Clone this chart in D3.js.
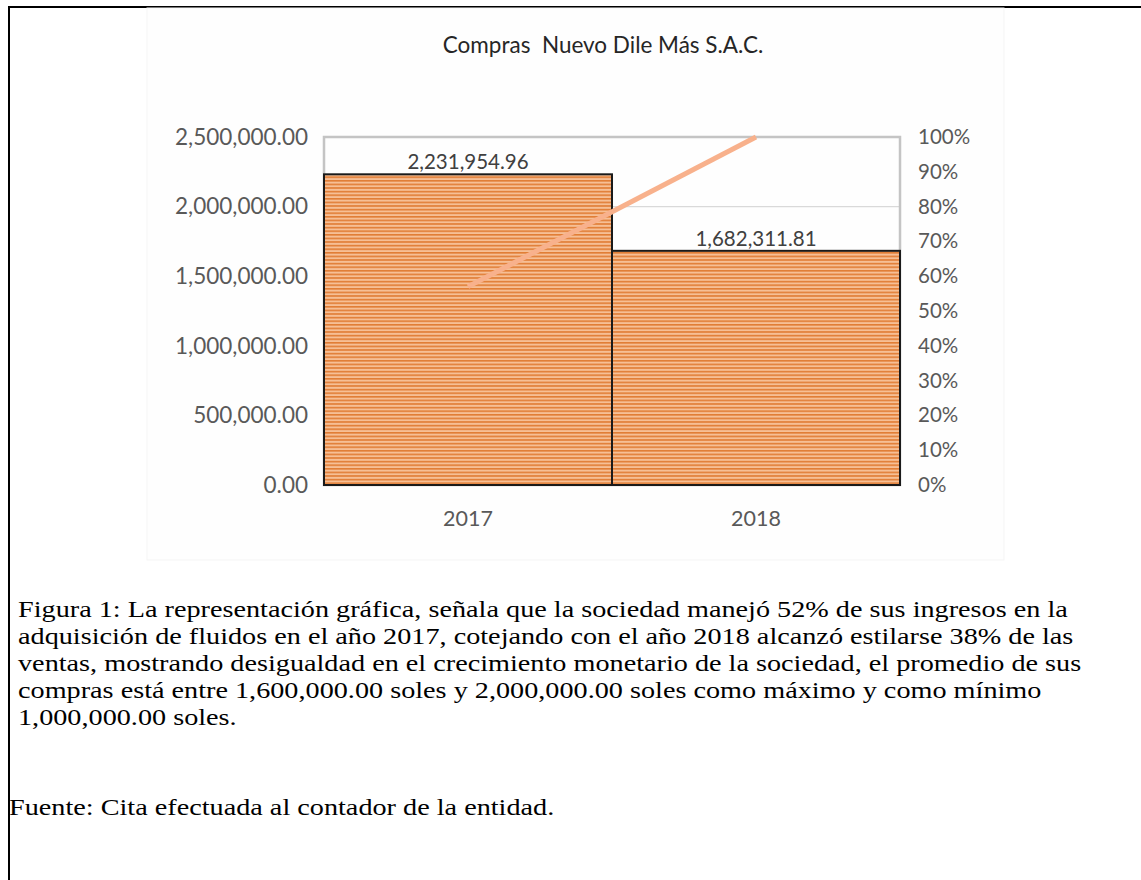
<!DOCTYPE html>
<html>
<head>
<meta charset="UTF-8">
<script src="https://d3js.org/d3.v7.min.js"></script>
<title>Compras Nuevo Dile Más S.A.C.</title>
<style>
  body { margin: 0; background: #fff; }
  svg { display: block; }
</style>
</head>
<body>
<svg id="chart" width="1141" height="880"></svg>
<script>
// data
const years = ["2017", "2018"];
const compras = [2231954.96, 1682311.81];
const acumulado = [0.57, 1.0];
const leftTicks = [0, 500000, 1000000, 1500000, 2000000, 2500000];
const rightTicks = [0, .1, .2, .3, .4, .5, .6, .7, .8, .9, 1];
const captionLines = [
  "Figura 1: La representación gráfica, señala que la sociedad manejó 52% de sus ingresos en la",
  "adquisición de fluidos en el año 2017, cotejando con el año 2018 alcanzó estilarse 38% de las",
  "ventas, mostrando desigualdad en el crecimiento monetario de la sociedad, el promedio de sus",
  "compras está entre 1,600,000.00 soles y 2,000,000.00 soles como máximo y como mínimo",
  "1,000,000.00 soles."
];
const fuente = "Fuente: Cita efectuada al contador de la entidad.";

const svg = d3.select("#chart");
const sans = "Lato, 'Open Sans', sans-serif";
const serif = "'Liberation Serif', 'Times New Roman', serif";

// page frame
svg.append("line").attr("x1", 8).attr("x2", 1141).attr("y1", 7).attr("y2", 7)
  .attr("stroke", "#000").attr("stroke-width", 2);
svg.append("line").attr("x1", 9).attr("x2", 9).attr("y1", 6).attr("y2", 880)
  .attr("stroke", "#000").attr("stroke-width", 2);

// chart image area
svg.append("rect").attr("x", 147).attr("y", 8).attr("width", 857).attr("height", 552)
  .attr("fill", "#fefefe").attr("stroke", "#f5f5f5").attr("stroke-width", 1);

const plot = { left: 324, right: 900, top: 137, bottom: 485 };

const x = d3.scaleBand().domain(years).range([plot.left, plot.right]).padding(0);
const y = d3.scaleLinear().domain([0, 2500000]).range([plot.bottom, plot.top]);
const yr = d3.scaleLinear().domain([0, 1]).range([plot.bottom, plot.top]);

// stripe pattern
const defs = svg.append("defs");
const pat = defs.append("pattern").attr("id", "stripes")
  .attr("patternUnits", "userSpaceOnUse").attr("width", 8).attr("height", 3.6);
pat.append("rect").attr("width", 8).attr("height", 3.6).attr("fill", "#f6bf95");
pat.append("rect").attr("y", 0).attr("width", 8).attr("height", 1.6).attr("fill", "#e17d35");

// title
svg.append("text").attr("x", 603).attr("y", 53).attr("text-anchor", "middle")
  .attr("font-family", sans).attr("font-size", 22.5).attr("fill", "#262626")
  .attr("xml:space", "preserve")
  .text("Compras  Nuevo Dile Más S.A.C.");

// gridlines
svg.append("g").selectAll("line").data(leftTicks).join("line")
  .attr("x1", plot.left).attr("x2", plot.right)
  .attr("y1", d => y(d)).attr("y2", d => y(d))
  .attr("stroke", "#d9d9d9").attr("stroke-width", 1.2);

// plot outline
svg.append("rect").attr("x", plot.left).attr("y", plot.top)
  .attr("width", plot.right - plot.left).attr("height", plot.bottom - plot.top)
  .attr("fill", "none").attr("stroke", "#c4c4c4").attr("stroke-width", 2.5);

// bars
svg.append("g").selectAll("rect").data(compras).join("rect")
  .attr("x", (d, i) => x(years[i]))
  .attr("y", d => y(d))
  .attr("width", x.bandwidth())
  .attr("height", d => plot.bottom - y(d))
  .attr("fill", "url(#stripes)")
  .attr("stroke", "#1a1a1a").attr("stroke-width", 2);

// bar labels
svg.append("g").selectAll("text").data(compras).join("text")
  .attr("x", (d, i) => x(years[i]) + x.bandwidth() / 2)
  .attr("y", d => y(d) - 5)
  .attr("text-anchor", "middle")
  .attr("font-family", sans).attr("font-size", 20.5).attr("fill", "#404040")
  .text(d => d3.format(",.2f")(d));

// cumulative line
const line = d3.line()
  .x((d, i) => x(years[i]) + x.bandwidth() / 2)
  .y(d => yr(d));
svg.append("path").datum(acumulado).attr("d", line)
  .attr("fill", "none").attr("stroke", "#f8b18c").attr("stroke-width", 5);

// axes
const leftAxis = svg.append("g").attr("transform", `translate(${plot.left - 16},0)`)
  .call(d3.axisLeft(y).tickValues(leftTicks).tickFormat(d3.format(",.2f")).tickSize(0).tickPadding(0));
const rightAxis = svg.append("g").attr("transform", `translate(${plot.right + 18},0)`)
  .call(d3.axisRight(yr).tickValues(rightTicks).tickFormat(d3.format(".0%")).tickSize(0).tickPadding(0));
const bottomAxis = svg.append("g").attr("transform", `translate(0,${plot.bottom + 26})`)
  .call(d3.axisBottom(x).tickSize(0).tickPadding(0));
[leftAxis, rightAxis, bottomAxis].forEach(a => {
  a.select(".domain").remove();
  a.selectAll("text").attr("font-family", sans).attr("fill", "#595959");
});
leftAxis.selectAll("text").attr("font-size", 22.5);
rightAxis.selectAll("text").attr("font-size", 20.5);
bottomAxis.selectAll("text").attr("font-size", 21.5);

// caption (source page is stretched a little sideways)
const cap = svg.append("g").attr("transform", "translate(18,0) scale(1.176,1)");
cap.selectAll("text").data(captionLines).join("text")
  .attr("x", 0).attr("y", (d, i) => 617 + i * 27)
  .attr("font-family", serif).attr("font-size", 24).attr("fill", "#000")
  .text(d => d);

svg.append("g").attr("transform", "translate(9,0) scale(1.176,1)")
  .append("text").attr("x", 0).attr("y", 815)
  .attr("font-family", serif).attr("font-size", 24).attr("fill", "#000")
  .text(fuente);
</script>
</body>
</html>
